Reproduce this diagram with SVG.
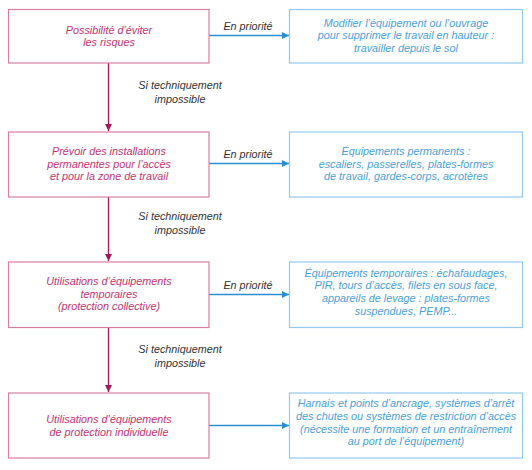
<svg xmlns="http://www.w3.org/2000/svg" width="532" height="470" viewBox="0 0 532 470">
<defs>
<marker id="ab" viewBox="0 0 10 10" refX="10" refY="5" markerWidth="7" markerHeight="7" markerUnits="userSpaceOnUse" orient="auto"><path d="M0,0 L10,5 L0,10 Z" fill="#2a8ed3"/></marker>
<marker id="am" viewBox="0 0 10 10" refX="10" refY="5" markerWidth="8" markerHeight="7" markerUnits="userSpaceOnUse" orient="auto"><path d="M0,0 L10,5 L0,10 Z" fill="#a3195b"/></marker>
</defs>
<style>
text{font-family:"Liberation Sans",Arial,sans-serif;font-style:italic;font-size:10.8px;text-anchor:middle}
.lb{fill:none;stroke:#d77ea3;stroke-width:1.2}
.rb{fill:none;stroke:#92c9ec;stroke-width:1.2}
.lt{fill:#c2346f}
.rt{fill:#4a9fd8}
.gt{fill:#333333}
.h{stroke:#2a8ed3;stroke-width:1.3;fill:none}
.v{stroke:#a3195b;stroke-width:1.3;fill:none}
</style>
<rect width="532" height="470" fill="#ffffff"/>
<g id="connectors">
<line class="h" x1="209" y1="35.5" x2="289" y2="35.5" marker-end="url(#ab)"/>
<line class="h" x1="209" y1="163.5" x2="289" y2="163.5" marker-end="url(#ab)"/>
<line class="h" x1="209" y1="294.5" x2="289" y2="294.5" marker-end="url(#ab)"/>
<line class="h" x1="209" y1="425.5" x2="289" y2="425.5" marker-end="url(#ab)"/>
<line class="v" x1="108.5" y1="63" x2="108.5" y2="131" marker-end="url(#am)"/>
<line class="v" x1="108.5" y1="197" x2="108.5" y2="261" marker-end="url(#am)"/>
<line class="v" x1="108.5" y1="328" x2="108.5" y2="392" marker-end="url(#am)"/>
<text class="gt" x="248" y="30">En priorité</text>
<text class="gt" x="248" y="158">En priorité</text>
<text class="gt" x="248" y="289">En priorité</text>
<text class="gt" x="180" y="89">Si techniquement</text>
<text class="gt" x="180" y="103">impossible</text>
<text class="gt" x="180" y="220">Si techniquement</text>
<text class="gt" x="180" y="234">impossible</text>
<text class="gt" x="180" y="353">Si techniquement</text>
<text class="gt" x="180" y="367">impossible</text>
</g>
<g id="n1">
<rect class="lb" x="8.5" y="9.5" width="200.5" height="53.5"/>
<text class="lt" x="109" y="33.5">Possibilité d’éviter</text>
<text class="lt" x="109" y="46">les risques</text>
</g>
<g id="n2">
<rect class="lb" x="8.5" y="132" width="200.5" height="65"/>
<text class="lt" x="109" y="155">Prévoir des installations</text>
<text class="lt" x="109" y="167.7">permanentes pour l’accès</text>
<text class="lt" x="109" y="180.3">et pour la zone de travail</text>
</g>
<g id="n3">
<rect class="lb" x="8.5" y="262" width="200.5" height="65.5"/>
<text class="lt" x="109" y="285">Utilisations d’équipements</text>
<text class="lt" x="109" y="297.7">temporaires</text>
<text class="lt" x="109" y="310.3">(protection collective)</text>
</g>
<g id="n4">
<rect class="lb" x="8.5" y="393" width="200.5" height="65"/>
<text class="lt" x="109" y="423.3">Utilisations d’équipements</text>
<text class="lt" x="109" y="436">de protection individuelle</text>
</g>
<g id="r1">
<rect class="rb" x="289.5" y="9.5" width="233" height="53.5"/>
<text class="rt" x="406" y="26.7">Modifier l’équipement ou l’ouvrage</text>
<text class="rt" x="406" y="39.3">pour supprimer le travail en hauteur :</text>
<text class="rt" x="406" y="52">travailler depuis le sol</text>
</g>
<g id="r2">
<rect class="rb" x="289.5" y="132" width="233" height="65"/>
<text class="rt" x="406" y="155">Équipements permanents :</text>
<text class="rt" x="406" y="167.7">escaliers, passerelles, plates-formes</text>
<text class="rt" x="406" y="180.3">de travail, gardes-corps, acrotères</text>
</g>
<g id="r3">
<rect class="rb" x="289.5" y="262" width="233" height="65.5"/>
<text class="rt" x="406" y="276.7">Équipements temporaires : échafaudages,</text>
<text class="rt" x="406" y="289.3">PIR, tours d’accès, filets en sous face,</text>
<text class="rt" x="406" y="302">appareils de levage : plates-formes</text>
<text class="rt" x="406" y="314.7">suspendues, PEMP...</text>
</g>
<g id="r4">
<rect class="rb" x="289.5" y="393" width="233" height="65"/>
<text class="rt" x="406" y="407.3">Harnais et points d’ancrage, systèmes d’arrêt</text>
<text class="rt" x="406" y="420">des chutes ou systèmes de restriction d’accès</text>
<text class="rt" x="406" y="432.7">(nécessite une formation et un entraînement</text>
<text class="rt" x="406" y="445.3">au port de l’équipement)</text>
</g>
</svg>
